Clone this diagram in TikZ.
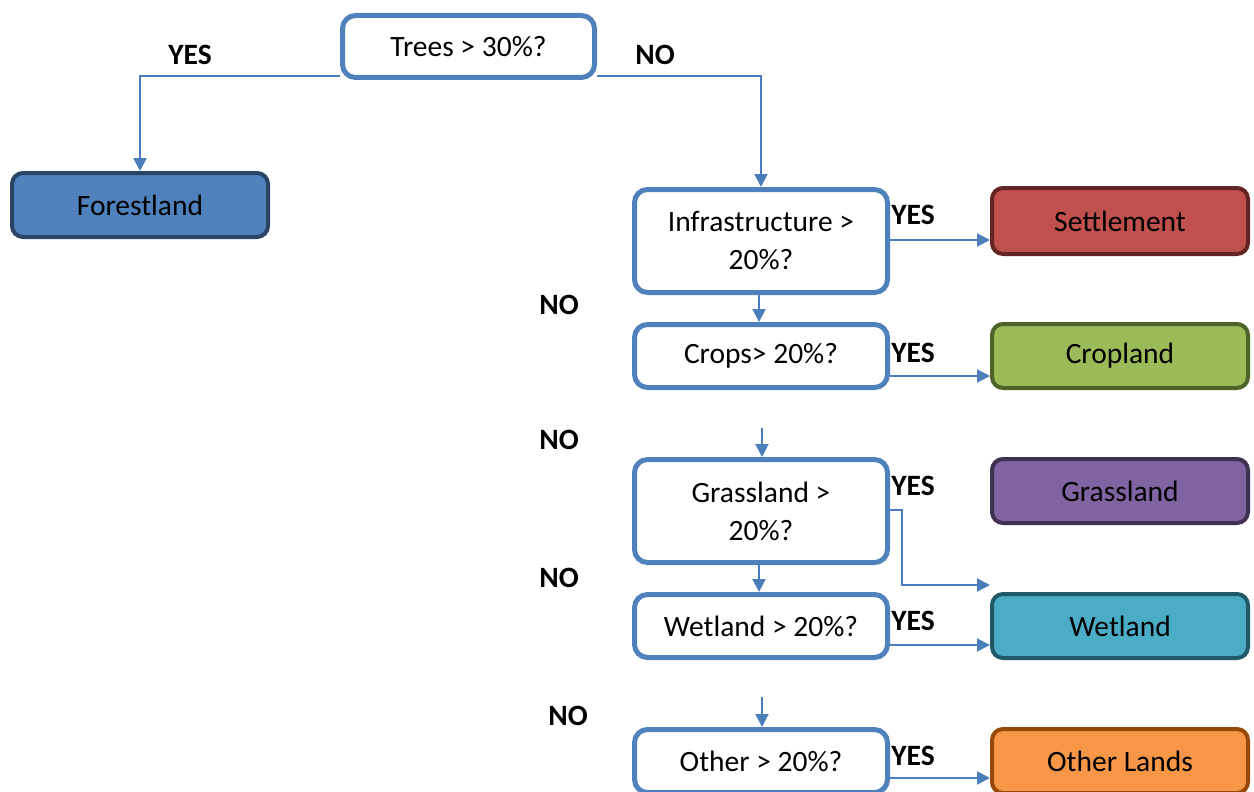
\documentclass[tikz,border=0pt]{standalone}
\usepackage{fontspec}
\setmainfont{Carlito}
\usetikzlibrary{arrows.meta}
\definecolor{qblue}{HTML}{4F81BD}
\definecolor{lineblue}{HTML}{4A7EBB}
\definecolor{forestfill}{HTML}{4F81BD}
\definecolor{forestdraw}{HTML}{2A4467}
\definecolor{settlefill}{HTML}{C0504D}
\definecolor{settledraw}{HTML}{632523}
\definecolor{cropfill}{HTML}{9BBB59}
\definecolor{cropdraw}{HTML}{4F6228}
\definecolor{grassfill}{HTML}{8064A2}
\definecolor{grassdraw}{HTML}{3F3151}
\definecolor{wetfill}{HTML}{4BACC6}
\definecolor{wetdraw}{HTML}{215968}
\definecolor{otherfill}{HTML}{F79646}
\definecolor{otherdraw}{HTML}{984807}
\tikzset{
  qbox/.style={draw=qblue, line width=5pt, fill=white, rounded corners=13pt,
    minimum width=253pt, minimum height=63pt, align=center, inner sep=0pt,
    font=\fontsize{29.5}{38}\selectfont},
  rbox/.style={line width=4pt, rounded corners=11pt,
    minimum width=256pt, minimum height=64pt, align=center, inner sep=0pt,
    font=\fontsize{29.5}{38}\selectfont},
  conn/.style={draw=lineblue, line width=2pt, -{Triangle[length=13pt,width=13pt]}},
  lab/.style={font=\bfseries\fontsize{29.5}{32}\selectfont, inner sep=0pt}
}
\begin{document}
\begin{tikzpicture}[x=1pt,y=-1pt]
\useasboundingbox (0,0) rectangle (1254,792);
% question boxes
\node[qbox, minimum width=252pt, minimum height=62pt] (trees) at (468.5,46.5) {Trees > 30\%?};
\node[qbox, minimum height=103pt] (infra) at (761,241) {Infrastructure >\\20\%?};
\node[qbox] (crops) at (761,356) {Crops> 20\%?};
\node[qbox, minimum height=103pt] (grassq) at (761,511) {Grassland >\\20\%?};
\node[qbox] (wetq) at (761,626) {Wetland > 20\%?};
\node[qbox] (otherq) at (761,761) {Other > 20\%?};
% result boxes
\node[rbox, draw=forestdraw, fill=forestfill] (forest) at (140,205) {Forestland};
\node[rbox, draw=settledraw, fill=settlefill, minimum height=66pt] (settle) at (1120,221) {Settlement};
\node[rbox, draw=cropdraw, fill=cropfill] (cropland) at (1120,356) {Cropland};
\node[rbox, draw=grassdraw, fill=grassfill] (grass) at (1120,491) {Grassland};
\node[rbox, draw=wetdraw, fill=wetfill] (wet) at (1120,626) {Wetland};
\node[rbox, draw=otherdraw, fill=otherfill] (otherl) at (1120,761) {Other Lands};
% connectors
\draw[conn] (trees.west |- 0,76) -| (forest.north);
\draw[conn] (trees.east |- 0,76) -| (infra.north);
\draw[conn] (infra.east |- 0,240) -- (settle.west |- 0,240);
\draw[conn] (infra.south -| 759,0) -- (crops.north -| 759,0);
\draw[conn] (crops.east |- 0,376) -- (cropland.west |- 0,376);
\coordinate (g0) at (762,428);
\draw[conn] (g0) -- (g0 |- grassq.north);
\draw[conn] (grassq.east |- 0,510) -- ++(12,0) |- (wet.west |- 0,585);
\draw[conn] (grassq.south -| 759,0) -- (wetq.north -| 759,0);
\draw[conn] (wetq.east |- 0,645) -- (wet.west |- 0,645);
\coordinate (o0) at (762,697);
\draw[conn] (o0) -- (o0 |- otherq.north);
\draw[conn] (otherq.east |- 0,778) -- (otherl.west |- 0,778);
% labels
\node[lab] (l1) at (190,55) {YES};
\node[lab] (l2) at (655,55) {NO};
\node[lab] (l3) at (913,215) {YES};
\node[lab] (l4) at (559,305) {NO};
\node[lab] (l5) at (913,353) {YES};
\node[lab] (l6) at (559,440) {NO};
\node[lab] (l7) at (913,486) {YES};
\node[lab] (l8) at (559,578) {NO};
\node[lab] (l9) at (913,621) {YES};
\node[lab] (l10) at (568,716) {NO};
\node[lab] (l11) at (913,756) {YES};
\end{tikzpicture}
\end{document}
